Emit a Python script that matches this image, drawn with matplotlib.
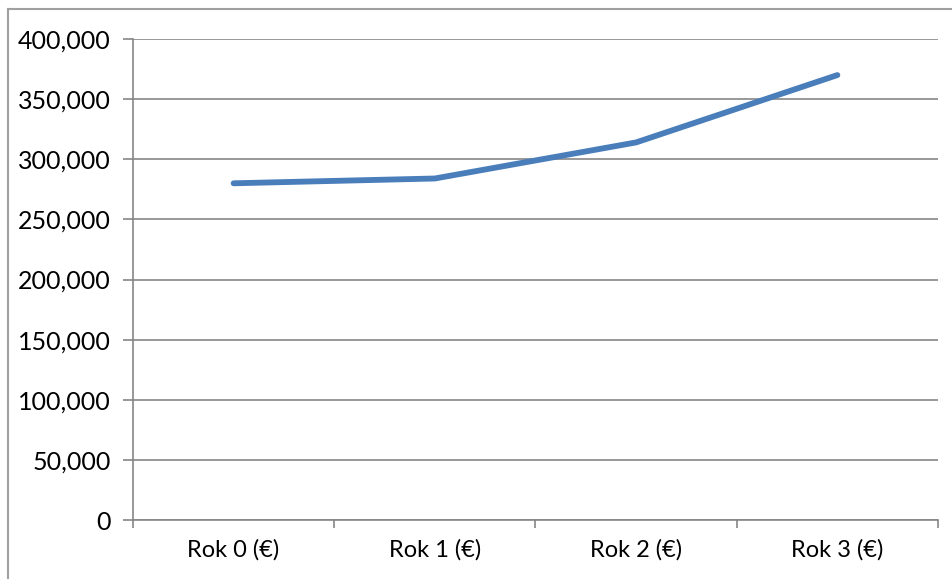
import matplotlib
matplotlib.use('Agg')
import matplotlib.pyplot as plt
from matplotlib.lines import Line2D
from matplotlib.ticker import FuncFormatter, MultipleLocator

# Chart data
categories = ['Rok 0 (€)', 'Rok 1 (€)', 'Rok 2 (€)', 'Rok 3 (€)']
values = [280000, 284000, 314000, 370000]

plt.rcParams['font.family'] = ['Lato', 'DejaVu Sans']

fig = plt.figure(figsize=(9.53, 5.79), dpi=100)
ax = fig.add_axes([133 / 953, 59 / 579, 805 / 953, 481 / 579])

grid_col = '#868686'

# outer chart frame (only top and left edges are visible)
fig.add_artist(Line2D([8 / 953, 8 / 953], [0, 1 - 9 / 579],
                      transform=fig.transFigure, color='#a0a0a0', lw=1.5))
fig.add_artist(Line2D([8 / 953, 1], [1 - 9 / 579, 1 - 9 / 579],
                      transform=fig.transFigure, color='#a0a0a0', lw=1.5))

x = list(range(len(categories)))
ax.plot(x, values, color='#4a7ebb', lw=4.2, solid_capstyle='round',
        solid_joinstyle='round', zorder=3)

ax.set_xlim(-0.5, len(categories) - 0.5)
ax.set_ylim(0, 400000)
ax.yaxis.set_major_locator(MultipleLocator(50000))
ax.yaxis.set_major_formatter(FuncFormatter(lambda v, p: '{:,.0f}'.format(v)))
ax.grid(axis='y', color=grid_col, lw=1.2)
ax.set_axisbelow(True)

# category ticks sit on the boundaries, labels in the middle
ax.set_xticks([i - 0.5 for i in range(len(categories) + 1)])
ax.set_xticklabels([])
ax.set_xticks(x, minor=True)
ax.set_xticklabels(categories, minor=True)
ax.tick_params(axis='x', which='minor', length=0, pad=14, labelsize=17)
ax.tick_params(axis='x', which='major', length=6, width=1.2, color=grid_col)
ax.tick_params(axis='y', length=7, width=1.2, color=grid_col, labelsize=18, pad=9)

for side in ['top', 'right']:
    ax.spines[side].set_visible(False)
for side in ['left', 'bottom']:
    ax.spines[side].set_color(grid_col)
    ax.spines[side].set_linewidth(1.2)

fig.savefig('out.png', dpi=100)
